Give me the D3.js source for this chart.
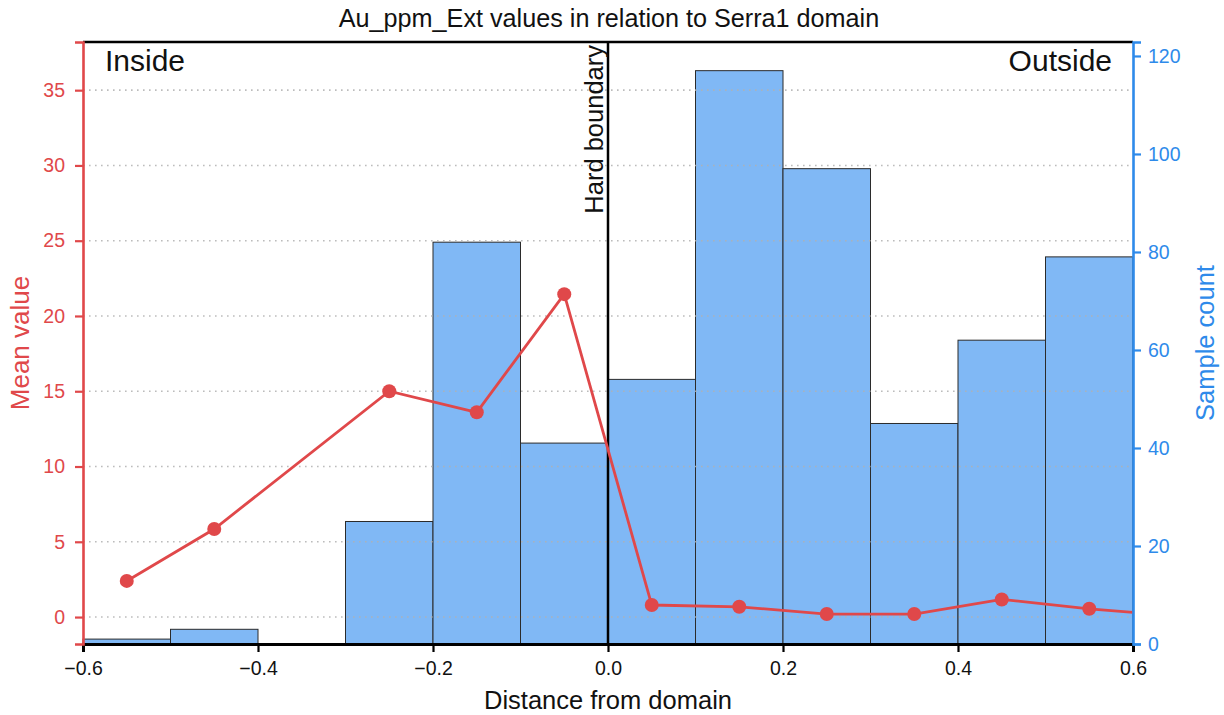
<!DOCTYPE html>
<html>
<head>
<meta charset="utf-8">
<script src="https://cdn.jsdelivr.net/npm/d3@7"></script>
<style>
  html, body { margin: 0; padding: 0; background: #fff; }
  svg { display: block; font-family: "Liberation Sans", Arial, Helvetica, sans-serif; }
</style>
</head>
<body>
<svg id="chart" width="1224" height="715"></svg>
<script>
// Histogram bins of distance from the domain boundary
const binEdges = [-0.6, -0.5, -0.4, -0.3, -0.2, -0.1, 0.0, 0.1, 0.2, 0.3, 0.4, 0.5, 0.6];
const sampleCounts = [1, 3, 0, 25, 82, 41, 54, 117, 97, 45, 62, 79];

// Mean grade per bin (bin centres); -0.35 has no samples
const binCentres = [-0.55, -0.45, -0.25, -0.15, -0.05, 0.05, 0.15, 0.25, 0.35, 0.45, 0.55, 0.65];
const meanValues = [2.4, 5.85, 15.0, 13.6, 21.45, 0.8, 0.68, 0.2, 0.2, 1.17, 0.55, 0.07];

const xTicks = [-0.6, -0.4, -0.2, 0.0, 0.2, 0.4, 0.6];
const leftTicks = [0, 5, 10, 15, 20, 25, 30, 35];
const rightTicks = [0, 20, 40, 60, 80, 100, 120];

const RED = "#e0484a";
const BLUE = "#2e8aea";
const BAR = "#80b8f5";

const svg = d3.select("#chart");
const m = { left: 83, right: 1133, top: 42, bottom: 644 };

const x = d3.scaleLinear().domain([-0.6, 0.6]).range([m.left, m.right]);
const yL = d3.scaleLinear().domain([-1.79, 38.2]).range([m.bottom, m.top]);
const yR = d3.scaleLinear().domain([0, 122.85]).range([m.bottom, m.top]);

svg.append("defs").append("clipPath").attr("id", "plotclip")
  .append("rect").attr("x", m.left).attr("y", m.top)
  .attr("width", m.right - m.left).attr("height", m.bottom - m.top);

// Histogram bars (sample count, right axis)
const bins = sampleCounts.map((c, i) => ({ x0: binEdges[i], x1: binEdges[i + 1], c }));
svg.append("g").selectAll("rect").data(bins.filter(d => d.c > 0)).join("rect")
  .attr("x", d => x(d.x0))
  .attr("width", d => x(d.x1) - x(d.x0))
  .attr("y", d => yR(d.c))
  .attr("height", d => yR(0) - yR(d.c))
  .attr("fill", BAR)
  .attr("stroke", "#2b2b2b")
  .attr("stroke-width", 1);

// Dotted grid at mean-value ticks
svg.append("g").selectAll("line").data(leftTicks).join("line")
  .attr("x1", m.left).attr("x2", m.right)
  .attr("y1", d => yL(d)).attr("y2", d => yL(d))
  .attr("stroke", "#b0b0b0").attr("stroke-opacity", 0.85)
  .attr("stroke-width", 1.6).attr("stroke-dasharray", "1.6,4.4");

// Hard boundary line at zero distance
svg.append("line")
  .attr("x1", x(0)).attr("x2", x(0)).attr("y1", m.top).attr("y2", m.bottom)
  .attr("stroke", "#000").attr("stroke-width", 2.5);

svg.append("text")
  .attr("transform", `translate(${x(0) - 5},${m.top + 3}) rotate(-90)`)
  .attr("text-anchor", "end")
  .attr("font-size", 25.5)
  .attr("fill", "#111")
  .text("Hard boundary");

// Mean-value line and markers (left axis)
const pts = binCentres.map((c, i) => [c, meanValues[i]]);
const plot = svg.append("g").attr("clip-path", "url(#plotclip)");
plot.append("path")
  .datum(pts)
  .attr("fill", "none")
  .attr("stroke", RED)
  .attr("stroke-width", 2.8)
  .attr("d", d3.line().x(d => x(d[0])).y(d => yL(d[1])));
plot.selectAll("circle").data(pts).join("circle")
  .attr("cx", d => x(d[0])).attr("cy", d => yL(d[1]))
  .attr("r", 7).attr("fill", RED);

// Spines
svg.append("line").attr("x1", m.left).attr("x2", m.right).attr("y1", m.top).attr("y2", m.top)
  .attr("stroke", "#000").attr("stroke-width", 2.5);

// Bottom axis
const xAxis = svg.append("g").attr("transform", `translate(0,${m.bottom})`)
  .call(d3.axisBottom(x).tickValues(xTicks).tickSize(8).tickPadding(9)
    .tickFormat(d => d3.format(".1f")(d).replace("-", "\u2212")));
xAxis.select(".domain").attr("stroke", "#000").attr("stroke-width", 3);
xAxis.selectAll(".tick line").attr("stroke", "#000").attr("stroke-width", 2.2);
xAxis.selectAll(".tick text").attr("font-size", 19.5).attr("fill", "#111");

// Left axis
const lAxis = svg.append("g").attr("transform", `translate(${m.left},0)`)
  .call(d3.axisLeft(yL).tickValues(leftTicks).tickSize(8).tickPadding(10));
lAxis.select(".domain").attr("stroke", RED).attr("stroke-width", 2.6);
lAxis.selectAll(".tick line").attr("stroke", RED).attr("stroke-width", 2.2);
lAxis.selectAll(".tick text").attr("font-size", 19.5).attr("fill", RED);

// Right axis
const rAxis = svg.append("g").attr("transform", `translate(${m.right},0)`)
  .call(d3.axisRight(yR).tickValues(rightTicks).tickSize(8).tickPadding(7));
rAxis.select(".domain").attr("stroke", BLUE).attr("stroke-width", 2.6);
rAxis.selectAll(".tick line").attr("stroke", BLUE).attr("stroke-width", 2.2);
rAxis.selectAll(".tick text").attr("font-size", 19.5).attr("fill", BLUE);

// Region labels
svg.append("text").attr("x", 105).attr("y", 71).attr("font-size", 30).attr("fill", "#111").text("Inside");
svg.append("text").attr("x", 1112).attr("y", 71).attr("text-anchor", "end")
  .attr("font-size", 30).attr("fill", "#111").text("Outside");

// Title and axis titles
svg.append("text").attr("x", 609).attr("y", 27).attr("text-anchor", "middle")
  .attr("font-size", 25.2).attr("fill", "#111")
  .text("Au_ppm_Ext values in relation to Serra1 domain");
svg.append("text").attr("x", 608).attr("y", 709).attr("text-anchor", "middle")
  .attr("font-size", 25.5).attr("fill", "#111").text("Distance from domain");
svg.append("text").attr("transform", `translate(29,${(m.top + m.bottom) / 2}) rotate(-90)`)
  .attr("text-anchor", "middle").attr("font-size", 26).attr("fill", RED).text("Mean value");
svg.append("text").attr("transform", `translate(1214,${(m.top + m.bottom) / 2}) rotate(-90)`)
  .attr("text-anchor", "middle").attr("font-size", 25.5).attr("fill", BLUE).text("Sample count");
</script>
</body>
</html>
